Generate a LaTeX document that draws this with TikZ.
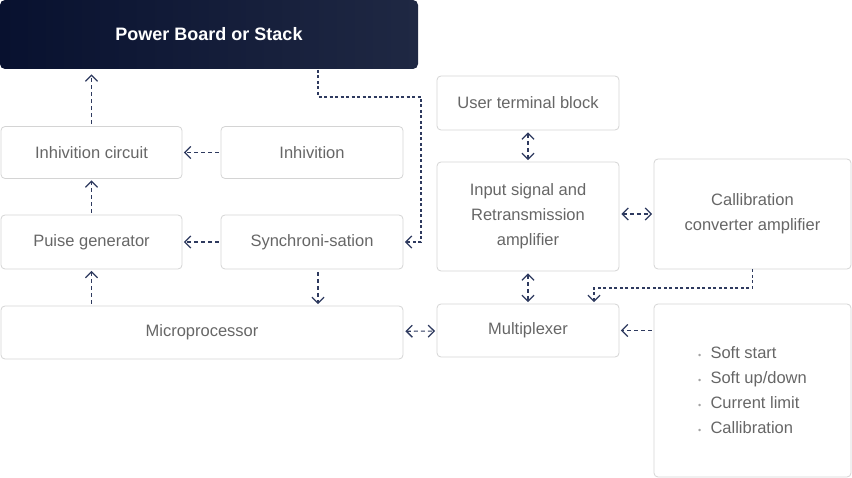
\documentclass[tikz,border=0pt]{standalone}
\usepackage{fontspec}
\setmainfont{Liberation Sans}
\usetikzlibrary{arrows.meta}
\definecolor{navy}{HTML}{2E3A5F}
\definecolor{txtgray}{HTML}{666666}
\definecolor{boxline}{HTML}{D4D4D4}
\definecolor{darkA}{HTML}{08112F}
\definecolor{darkB}{HTML}{1F2843}
\begin{document}
\begin{tikzpicture}[x=1pt, y=-1pt,
    >={Straight Barb[length=6pt,width=12pt,line width=1.3pt]},
    blk/.style={draw=boxline, line width=0.8pt, rounded corners=4pt, text=txtgray,
      font=\fontsize{16.5}{25}\selectfont, align=center, inner sep=0pt},
    link/.style={draw=navy, line width=1.1pt, dash pattern=on 4pt off 3pt, ->, shorten >=1.5pt, shorten <=2pt},
    bus/.style={draw=navy, line width=1.3pt, dash pattern=on 3pt off 2.5pt, ->, shorten >=1.5pt}]
  \useasboundingbox (0,0) rectangle (852,478);
  % left column
  \node[blk, draw=none, left color=darkA, right color=darkB, text=white, rounded corners=5pt,
    font=\fontsize{18}{22}\selectfont\bfseries, minimum width=418pt, minimum height=69pt] (power) at (209,34.5) {Power Board or Stack};
  \node[blk, minimum width=181pt, minimum height=52pt] (inhcirc) at (91.5,152.5) {Inhivition circuit};
  \node[blk, minimum width=182pt, minimum height=52pt] (inh) at (312,152.5) {Inhivition};
  \node[blk, minimum width=181pt, minimum height=54pt] (pulse) at (91.5,242) {Puise generator};
  \node[blk, minimum width=182pt, minimum height=54pt] (sync) at (312,242) {Synchroni-sation};
  \node[blk, minimum width=402pt, minimum height=53pt] (micro) at (202,332.5) {Microprocessor};
  % right column
  \node[blk, minimum width=182pt, minimum height=54pt] (user) at (528,103) {User terminal block};
  \node[blk, minimum width=182pt, minimum height=109pt] (input) at (528,216.5) {Input signal and\\Retransmission\\amplifier};
  \node[blk, minimum width=197pt, minimum height=110pt] (calib) at (752.5,214) {Callibration\\converter amplifier};
  \node[blk, minimum width=182pt, minimum height=53pt] (mux) at (528,330.5) {Multiplexer};
  \node[blk, minimum width=197pt, minimum height=173pt, align=left] (opts) at (752.5,390.5)
    {{\color{txtgray!60}\small\textbullet}\ \ Soft start\\{\color{txtgray!60}\small\textbullet}\ \ Soft up/down\\
     {\color{txtgray!60}\small\textbullet}\ \ Current limit\\{\color{txtgray!60}\small\textbullet}\ \ Callibration};
  \coordinate (pwrout) at (318,70);
  \coordinate (syncout) at (318,270);
  \coordinate (bend1) at (421,97);
  \coordinate (bend2) at (594,288);
  % connectors
  \draw[link, shorten >=5pt] (inhcirc.north) -- (inhcirc.north |- power.south);
  \draw[link] (inh) -- (inhcirc);
  \draw[link] (pulse) -- (inhcirc);
  \draw[link] (sync) -- (pulse);
  \draw[link] (micro.north -| pulse) -- (pulse.south);
  \draw[link] (syncout) -- (syncout |- micro.north);
  \draw[bus] (pwrout) |- (bend1) |- (sync.east);
  \draw[link, <->] (micro) -- (mux);
  \draw[link, <->] (user) -- (input);
  \draw[link, <->] (input.east |- calib.west) -- (calib.west);
  \draw[link, <->] (input) -- (mux);
  \draw[bus] (calib.south) |- (bend2) -- (bend2 |- mux.north);
  \draw[link] (opts.west |- mux.east) -- (mux.east);
\end{tikzpicture}
\end{document}
